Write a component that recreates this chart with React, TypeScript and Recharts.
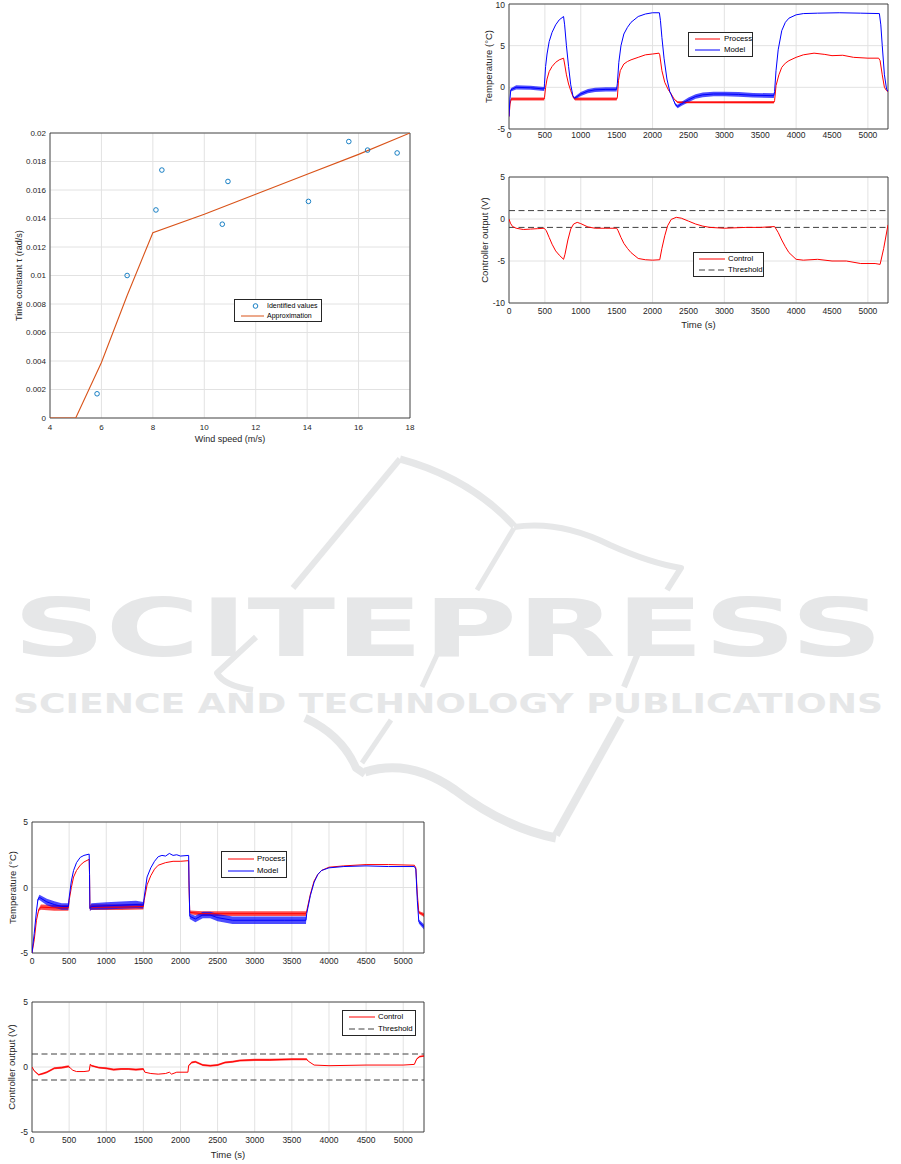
import React from 'react';
import {
  ComposedChart,
  Line,
  Area,
  Scatter,
  XAxis,
  YAxis,
  CartesianGrid,
  ReferenceArea,
  ReferenceLine,
  Legend,
} from 'recharts';

const FONT = '"Liberation Sans", Arial, Helvetica, sans-serif';
const AXIS = '#262626';
const GRID = '#e2e2e2';
const RED = '#ff0000';
const BLUE = '#0000ff';
const MBLUE = '#0072bd';
const MORANGE = '#d95319';
const THRESH = '#404040';

// ---------- Chart 1: time constant vs wind speed ----------
const windSpeedIdentified = [5.83, 7.0, 8.12, 8.35, 10.7, 10.92, 14.05, 15.62, 16.35, 17.5];
const tauIdentified = [0.0017, 0.01, 0.0146, 0.0174, 0.0136, 0.0166, 0.0152, 0.0194, 0.0188, 0.0186];
const windSpeedApprox = [4, 5, 6, 7, 8, 10, 12, 14, 16, 18];
const tauApprox = [0, 0, 0.0039, 0.0086, 0.013, 0.0143, 0.0157, 0.0171, 0.0185, 0.02];
const windTicks = [4, 6, 8, 10, 12, 14, 16, 18];
const tauTicks = [0, 0.002, 0.004, 0.006, 0.008, 0.01, 0.012, 0.014, 0.016, 0.018, 0.02];

// ---------- shared time axis ----------
const timeTicks = [0, 500, 1000, 1500, 2000, 2500, 3000, 3500, 4000, 4500, 5000];
const TIME_MAX = 5280;

// [time, value, noise half-width]
// ---------- Chart 2 (top right): temperature, run A ----------
const tempA_process = [
  [0, -3.5, 0], [15, -2, 0], [30, -1.4, 0.18], [490, -1.4, 0.18], [495, -1.2, 0], [510, 0, 0], [530, 1.0, 0],
  [560, 1.9, 0], [600, 2.5, 0], [650, 3.0, 0], [700, 3.3, 0], [760, 3.5, 0], [775, 2.8, 0], [800, 1.5, 0],
  [830, 0.4, 0], [860, -0.4, 0], [900, -1.3, 0], [920, -1.4, 0.18], [1500, -1.4, 0.18], [1510, -1.2, 0],
  [1525, 0.8, 0], [1550, 2.0, 0], [1600, 2.8, 0], [1650, 3.1, 0], [1700, 3.3, 0], [1800, 3.6, 0],
  [1900, 3.9, 0], [2000, 4.0, 0], [2090, 4.1, 0], [2100, 3.9, 0], [2130, 2.0, 0], [2170, 0.6, 0],
  [2220, -0.3, 0], [2260, -0.8, 0], [2300, -1.4, 0], [2350, -1.8, 0.12], [3690, -1.8, 0.15], [3700, -1.6, 0],
  [3720, 0.2, 0], [3760, 1.5, 0], [3800, 2.4, 0], [3850, 2.9, 0], [3900, 3.2, 0], [4000, 3.6, 0],
  [4100, 3.9, 0], [4250, 4.1, 0], [4400, 3.95, 0], [4500, 3.8, 0], [4650, 3.85, 0], [4800, 3.6, 0],
  [5000, 3.5, 0], [5150, 3.5, 0], [5170, 3.2, 0], [5200, 1.5, 0], [5230, 0, 0], [5260, -0.4, 0], [5280, -0.5, 0],
];
const tempA_model = [
  [0, -3.5, 0], [12, -1.5, 0], [25, -0.3, 0.2], [100, 0, 0.25], [300, -0.05, 0.25], [490, -0.2, 0.25],
  [495, 0.5, 0], [510, 2.5, 0], [530, 4.0, 0], [560, 5.5, 0], [600, 6.6, 0], [650, 7.5, 0], [700, 8.1, 0],
  [760, 8.5, 0], [775, 7.5, 0], [800, 5.0, 0], [830, 2.5, 0], [860, 0.3, 0], [890, -1.0, 0], [910, -1.3, 0.15],
  [950, -1.1, 0.2], [1000, -0.8, 0.25], [1100, -0.45, 0.25], [1200, -0.3, 0.25], [1350, -0.25, 0.25],
  [1500, -0.25, 0.25], [1510, 0.5, 0], [1530, 3.0, 0], [1560, 5.0, 0], [1600, 6.4, 0], [1650, 7.2, 0],
  [1700, 7.8, 0], [1800, 8.5, 0], [1900, 8.8, 0], [2000, 8.95, 0], [2095, 8.95, 0], [2110, 8.0, 0],
  [2130, 6.0, 0], [2160, 3.5, 0], [2200, 1.0, 0], [2240, -0.5, 0], [2280, -1.3, 0], [2320, -2.1, 0.15],
  [2350, -2.3, 0.2], [2400, -2.0, 0.25], [2500, -1.5, 0.28], [2600, -1.1, 0.28], [2700, -0.9, 0.28],
  [2850, -0.8, 0.28], [3000, -0.8, 0.28], [3200, -0.85, 0.28], [3400, -0.95, 0.28], [3690, -1.0, 0.28],
  [3700, -0.5, 0], [3720, 2.0, 0], [3750, 4.5, 0], [3800, 6.8, 0], [3850, 7.8, 0], [3900, 8.3, 0],
  [4000, 8.7, 0], [4100, 8.85, 0], [4300, 8.9, 0], [4600, 8.95, 0], [4900, 8.9, 0], [5160, 8.85, 0],
  [5180, 7.5, 0], [5200, 5.0, 0], [5230, 1.5, 0], [5260, -0.2, 0], [5280, -0.5, 0],
];

// ---------- Chart 3 (top right): controller output, run A ----------
const controlA = [
  [0, 0], [20, -0.5], [50, -0.9], [100, -1.1], [200, -1.25], [300, -1.2], [400, -1.15], [490, -1.1],
  [520, -1.4], [560, -2.2], [600, -3.0], [650, -3.8], [700, -4.3], [760, -4.8], [780, -4.2], [820, -2.5],
  [860, -1.2], [900, -0.6], [950, -0.4], [1000, -0.55], [1100, -0.95], [1200, -1.1], [1350, -1.1],
  [1500, -1.1], [1520, -1.4], [1560, -2.2], [1600, -2.9], [1650, -3.5], [1700, -4.0], [1800, -4.7],
  [1900, -4.85], [2000, -4.9], [2100, -4.85], [2130, -3.5], [2170, -2.0], [2210, -0.8], [2260, -0.05],
  [2330, 0.2], [2400, 0.1], [2500, -0.25], [2600, -0.6], [2700, -0.85], [2800, -1.0], [3000, -1.1],
  [3300, -1.0], [3500, -1.0], [3700, -0.9], [3750, -1.6], [3800, -2.5], [3850, -3.3], [3900, -4.0],
  [4000, -4.8], [4100, -4.9], [4300, -4.8], [4500, -5.0], [4700, -5.0], [4900, -5.3], [5100, -5.3],
  [5170, -5.4], [5220, -3.5], [5280, -0.7],
];
const thresholdLevels = [1, -1];

// ---------- Chart 4 (bottom left): temperature, run B ----------
const tempB_process = [
  [0, -5, 0], [30, -4.0, 0], [60, -2.5, 0], [90, -1.7, 0.1], [120, -1.5, 0.2], [300, -1.55, 0.22],
  [490, -1.55, 0.22], [500, -1.0, 0], [530, 0.0, 0], [560, 0.8, 0], [600, 1.3, 0], [650, 1.7, 0],
  [700, 1.95, 0], [770, 2.15, 0], [775, 1.0, 0], [780, -1.6, 0.15], [800, -1.5, 0.22], [1000, -1.5, 0.22],
  [1200, -1.5, 0.22], [1500, -1.45, 0.22], [1510, -1.0, 0], [1550, 0.2, 0], [1600, 0.9, 0], [1650, 1.4, 0],
  [1700, 1.7, 0], [1800, 1.9, 0], [1900, 2.0, 0], [2000, 2.0, 0], [2110, 2.05, 0], [2115, 0, 0],
  [2125, -1.9, 0.15], [2300, -2.0, 0.18], [3000, -2.0, 0.18], [3690, -2.0, 0.18], [3700, -1.8, 0],
  [3750, -0.5, 0], [3800, 0.5, 0], [3850, 1.0, 0], [3900, 1.3, 0], [4000, 1.55, 0], [4200, 1.65, 0],
  [4500, 1.75, 0], [4800, 1.75, 0], [5150, 1.7, 0], [5170, 1.5, 0], [5190, -0.5, 0], [5210, -1.9, 0.1],
  [5280, -2.1, 0.15],
];
const tempB_model = [
  [0, -5, 0], [30, -3.5, 0], [60, -1.8, 0], [80, -0.9, 0.1], [100, -0.75, 0.2], [200, -1.1, 0.25],
  [300, -1.3, 0.25], [400, -1.45, 0.25], [490, -1.45, 0.25], [500, -0.8, 0], [530, 0.5, 0], [560, 1.3, 0],
  [600, 1.9, 0], [650, 2.3, 0], [700, 2.45, 0], [770, 2.55, 0], [775, 1.0, 0], [780, -1.6, 0.2],
  [800, -1.45, 0.25], [1000, -1.4, 0.28], [1200, -1.35, 0.28], [1400, -1.3, 0.28], [1500, -1.35, 0.25],
  [1510, -0.8, 0], [1550, 0.8, 0], [1600, 1.5, 0], [1650, 2.0, 0], [1700, 2.35, 0], [1750, 2.45, 0],
  [1800, 2.4, 0], [1850, 2.6, 0], [1900, 2.45, 0], [1950, 2.5, 0], [2000, 2.4, 0], [2110, 2.45, 0],
  [2115, 0.5, 0], [2125, -2.2, 0.2], [2200, -2.4, 0.25], [2300, -2.1, 0.25], [2400, -2.1, 0.25],
  [2500, -2.3, 0.28], [2700, -2.5, 0.28], [3000, -2.5, 0.28], [3400, -2.5, 0.28], [3690, -2.5, 0.28],
  [3700, -2.0, 0], [3750, -0.6, 0], [3800, 0.4, 0], [3850, 1.0, 0], [3900, 1.3, 0], [4000, 1.5, 0],
  [4200, 1.6, 0], [4500, 1.65, 0], [4800, 1.6, 0], [5150, 1.6, 0], [5170, 1.4, 0], [5190, -1.0, 0],
  [5210, -2.6, 0.15], [5280, -3.0, 0.2],
];

// ---------- Chart 5 (bottom left): controller output, run B ----------
const controlB = [
  [0, 0, 0], [30, -0.3, 0.03], [90, -0.6, 0.06], [150, -0.5, 0.08], [200, -0.4, 0.08], [300, -0.1, 0.08],
  [400, -0.05, 0.08], [490, 0.05, 0.08], [520, -0.1, 0], [550, -0.25, 0], [600, -0.35, 0], [700, -0.35, 0],
  [770, -0.3, 0], [785, 0.2, 0.05], [800, 0.1, 0.07], [900, -0.05, 0.07], [1000, -0.1, 0.08],
  [1100, -0.2, 0.08], [1200, -0.15, 0.08], [1300, -0.15, 0.08], [1400, -0.2, 0.08], [1500, -0.15, 0.08],
  [1520, -0.4, 0], [1600, -0.5, 0], [1700, -0.55, 0], [1800, -0.5, 0], [1850, -0.4, 0], [1880, -0.55, 0],
  [1950, -0.4, 0], [2100, -0.4, 0], [2110, 0.1, 0.05], [2150, 0.35, 0.08], [2200, 0.4, 0.08],
  [2300, 0.15, 0.08], [2400, 0.1, 0.08], [2500, 0.15, 0.08], [2600, 0.35, 0.08], [2700, 0.4, 0.08],
  [2800, 0.5, 0.08], [3000, 0.55, 0.08], [3200, 0.55, 0.08], [3500, 0.6, 0.08], [3700, 0.6, 0.08],
  [3720, 0.45, 0], [3800, 0.15, 0], [4000, 0.1, 0], [4500, 0.15, 0], [5000, 0.15, 0], [5150, 0.2, 0],
  [5180, 0.6, 0.05], [5220, 0.8, 0.06], [5280, 0.85, 0.06],
];

const toRows = (pts: number[][]) =>
  pts.map((p) => {
    const n = p[2] ?? 0;
    return { t: p[0], v: p[1], band: [p[1] - n, p[1] + n] };
  });

type LegendItem = { label: string; color: string; kind: 'line' | 'marker'; dash?: string };

function LegendBox({ items, fontSize, sample, padLeft, gap, w, h }: any) {
  return (
    <div
      style={{
        boxSizing: 'border-box',
        width: w,
        height: h,
        border: `1px solid ${AXIS}`,
        background: '#fff',
        fontFamily: FONT,
        fontSize,
        color: '#000',
        paddingLeft: padLeft,
        display: 'flex',
        flexDirection: 'column',
        justifyContent: 'center',
      }}
    >
      {(items as LegendItem[]).map((it) => (
        <div key={it.label} style={{ display: 'flex', alignItems: 'center', height: (h - 3) / items.length, whiteSpace: 'nowrap' }}>
          <svg width={sample} height={8} style={{ marginRight: gap, flex: 'none' }}>
            {it.kind === 'marker' ? (
              <circle cx={sample / 2 + 3} cy={4} r={2.3} fill="none" stroke={it.color} strokeWidth={0.9} />
            ) : (
              <line x1={0} x2={sample} y1={4} y2={4} stroke={it.color} strokeWidth={1} strokeDasharray={it.dash} />
            )}
          </svg>
          <span style={{ lineHeight: 1 }}>{it.label}</span>
        </div>
      ))}
    </div>
  );
}

const tickStyle = (size: number) => ({ fontSize: size, fill: AXIS, fontFamily: FONT });

function WindChart() {
  const scatterRows = windSpeedIdentified.map((x, i) => ({ x, y: tauIdentified[i] }));
  const approxRows = windSpeedApprox.map((x, i) => ({ x, y: tauApprox[i] }));
  const items: LegendItem[] = [
    { label: 'Identified values', color: MBLUE, kind: 'marker' },
    { label: 'Approximation', color: MORANGE, kind: 'line' },
  ];
  return (
    <div style={{ position: 'absolute', left: 0, top: 120 }}>
      <ComposedChart width={420} height={330} margin={{ top: 13, right: 10, bottom: 0, left: 0 }}>
        <CartesianGrid stroke={GRID} strokeWidth={1} />
        <XAxis
          dataKey="x"
          type="number"
          domain={[4, 18]}
          ticks={windTicks}
          allowDataOverflow
          height={32}
          axisLine={false}
          tickLine={false}
          tickSize={0}
          tickMargin={6}
          tick={tickStyle(8)}
          label={{ value: 'Wind speed (m/s)', position: 'insideBottom', offset: 8, fontSize: 9, fill: AXIS, fontFamily: FONT }}
        />
        <YAxis
          type="number"
          domain={[0, 0.02]}
          ticks={tauTicks}
          allowDataOverflow
          width={50}
          axisLine={false}
          tickLine={false}
          tickSize={0}
          tickMargin={4}
          tick={tickStyle(8)}
          tickFormatter={(v: number) => String(Number(v.toFixed(3)))}
          label={{
            value: 'Time constant τ (rad/s)',
            angle: -90,
            position: 'insideLeft',
            offset: 19,
            fontSize: 9,
            fill: AXIS,
            fontFamily: FONT,
            style: { textAnchor: 'middle' },
          }}
        />
        <ReferenceArea x1={4} x2={18} y1={0} y2={0.02} fill="none" fillOpacity={0} stroke={AXIS} strokeWidth={0.8} ifOverflow="visible" />
        <Line data={approxRows} dataKey="y" type="linear" stroke={MORANGE} strokeWidth={1.1} dot={false} activeDot={false} isAnimationActive={false} />
        <Scatter
          data={scatterRows}
          dataKey="y"
          isAnimationActive={false}
          shape={(p: any) => <circle cx={p.cx} cy={p.cy} r={2.3} fill="none" stroke={MBLUE} strokeWidth={0.9} />}
        />
        <Legend
          verticalAlign="middle"
          align="center"
          layout="horizontal"
          wrapperStyle={{ left: 234, top: 179, width: 88, height: 23 }}
          content={() => <LegendBox items={items} fontSize={7} sample={23} padLeft={6} gap={3} w={88} h={23} />}
        />
      </ComposedChart>
    </div>
  );
}

type SeriesDef = { name: string; color: string; pts: number[][] };

function TimeChart(props: any) {
  const {
    left, top, width, height, margin, yW, xH, yDomain, yTicks, yLabel, yLabelOffset,
    xLabel, xLabelOffset, xTickGap, series, thresholds, legend,
  } = props;
  const children: any[] = [];
  (series as SeriesDef[]).forEach((s) => {
    const data = toRows(s.pts);
    children.push(
      <Area
        key={s.name + '-band'}
        data={data}
        dataKey="band"
        type="linear"
        stroke="none"
        fill={s.color}
        fillOpacity={0.7}
        dot={false}
        activeDot={false}
        legendType="none"
        isAnimationActive={false}
      />
    );
    children.push(
      <Line
        key={s.name + '-line'}
        data={data}
        dataKey="v"
        type="linear"
        stroke={s.color}
        strokeWidth={1}
        dot={false}
        activeDot={false}
        isAnimationActive={false}
      />
    );
  });
  return (
    <div style={{ position: 'absolute', left, top }}>
      <ComposedChart width={width} height={height} margin={margin}>
        <CartesianGrid stroke={GRID} strokeWidth={1} />
        <XAxis
          dataKey="t"
          type="number"
          domain={[0, TIME_MAX]}
          ticks={timeTicks}
          allowDataOverflow
          height={xH}
          axisLine={false}
          tickLine={false}
          tickSize={0}
          tickMargin={xTickGap}
          tick={tickStyle(8.5)}
          label={
            xLabel
              ? { value: xLabel, position: 'insideBottom', offset: xLabelOffset, fontSize: 9.5, fill: AXIS, fontFamily: FONT }
              : undefined
          }
        />
        <YAxis
          type="number"
          domain={yDomain}
          ticks={yTicks}
          allowDataOverflow
          width={yW}
          axisLine={false}
          tickLine={false}
          tickSize={0}
          tickMargin={4}
          tick={tickStyle(8.5)}
          label={{
            value: yLabel,
            angle: -90,
            position: 'insideLeft',
            offset: yLabelOffset,
            fontSize: 9.5,
            fill: AXIS,
            fontFamily: FONT,
            style: { textAnchor: 'middle' },
          }}
        />
        {(thresholds || []).map((lv: number) => (
          <ReferenceLine key={'th' + lv} y={lv} stroke={THRESH} strokeWidth={1} strokeDasharray="6 3.5" />
        ))}
        {children}
        <ReferenceArea
          x1={0}
          x2={TIME_MAX}
          y1={yDomain[0]}
          y2={yDomain[1]}
          fill="none"
          fillOpacity={0}
          stroke={AXIS}
          strokeWidth={0.8}
          ifOverflow="visible"
        />
        <Legend
          verticalAlign="middle"
          align="center"
          layout="horizontal"
          wrapperStyle={{ left: legend.left, top: legend.top, width: legend.w, height: legend.h }}
          content={() => (
            <LegendBox items={legend.items} fontSize={7.8} sample={legend.sample} padLeft={legend.padLeft} gap={legend.gap} w={legend.w} h={legend.h} />
          )}
        />
      </ComposedChart>
    </div>
  );
}

function Watermark() {
  const c = '#e6e7e8';
  return (
    <svg width={901} height={1164} style={{ position: 'absolute', left: 0, top: 0 }}>
      <g fill="none" stroke={c} strokeWidth={6} strokeLinecap="butt" strokeLinejoin="round">
        <path d="M400,459 L293,588" />
        <path d="M256,637 L217,673 Q224,686 253,690" />
        <path d="M400,459 Q470,478 514,526" strokeWidth={7} />
        <path d="M514,527 Q560,520 610,545 Q650,563 681,568 L667,590" />
        <path d="M514,528 L477,590" strokeWidth={5} />
        <path d="M443,642 L422,687" strokeWidth={5} />
        <path d="M391,720 L362,763" strokeWidth={5} />
        <path d="M638,653 L624,687" />
        <path d="M621,718 L556,835" strokeWidth={8} />
        <path d="M305,718 Q342,735 356,768 L365,774" strokeWidth={8} />
        <path d="M365,772 Q410,758 455,790 Q505,828 556,838" strokeWidth={9} />
      </g>
      <text
        x={13}
        y={656}
        fontSize={81}
        fontWeight={700}
        fontFamily='"DejaVu Sans", sans-serif'
        textLength={870}
        lengthAdjust="spacingAndGlyphs"
        fill={c}
      >
        SCITEPRESS
      </text>
      <text
        x={13}
        y={713}
        fontSize={27}
        fontWeight={700}
        fontFamily='"DejaVu Sans", sans-serif'
        textLength={870}
        lengthAdjust="spacingAndGlyphs"
        fill={c}
      >
        SCIENCE AND TECHNOLOGY PUBLICATIONS
      </text>
    </svg>
  );
}

export default function App() {
  const tempItems: LegendItem[] = [
    { label: 'Process', color: RED, kind: 'line' },
    { label: 'Model', color: BLUE, kind: 'line' },
  ];
  const ctrlItems: LegendItem[] = [
    { label: 'Control', color: RED, kind: 'line' },
    { label: 'Threshold', color: THRESH, kind: 'line', dash: '6 3.5' },
  ];
  return (
    <div
      style={{
        position: 'absolute',
        left: 0,
        top: 0,
        width: 901,
        height: 1164,
        background: '#fff',
        fontFamily: FONT,
        overflow: 'hidden',
      }}
    >
      <Watermark />
      <WindChart />
      <TimeChart
        left={470}
        top={0}
        width={425}
        height={150}
        margin={{ top: 4, right: 7, bottom: 0, left: 0 }}
        yW={39}
        xH={21}
        xTickGap={3}
        yDomain={[-5, 10]}
        yTicks={[-5, 0, 5, 10]}
        yLabel="Temperature (°C)"
        yLabelOffset={19}
        series={[
          { name: 'Process', color: RED, pts: tempA_process },
          { name: 'Model', color: BLUE, pts: tempA_model },
        ]}
        legend={{ left: 218, top: 32, w: 65, h: 25, sample: 25, padLeft: 6, gap: 4, items: tempItems }}
      />
      <TimeChart
        left={470}
        top={170}
        width={425}
        height={165}
        margin={{ top: 7, right: 7, bottom: 0, left: 0 }}
        yW={39}
        xH={32}
        xTickGap={5}
        yDomain={[-10, 5]}
        yTicks={[-10, -5, 0, 5]}
        yLabel="Controller output (V)"
        yLabelOffset={15}
        xLabel="Time (s)"
        xLabelOffset={7}
        thresholds={thresholdLevels}
        series={[{ name: 'Control', color: RED, pts: controlA }]}
        legend={{ left: 223, top: 82, w: 71, h: 25, sample: 26, padLeft: 5, gap: 3, items: ctrlItems }}
      />
      <TimeChart
        left={0}
        top={815}
        width={430}
        height={158}
        margin={{ top: 7, right: 6, bottom: 0, left: 0 }}
        yW={32}
        xH={20}
        xTickGap={5}
        yDomain={[-5, 5]}
        yTicks={[-5, 0, 5]}
        yLabel="Temperature (°C)"
        yLabelOffset={13}
        series={[
          { name: 'Process', color: RED, pts: tempB_process },
          { name: 'Model', color: BLUE, pts: tempB_model },
        ]}
        legend={{ left: 221, top: 36, w: 66, h: 27, sample: 26, padLeft: 6, gap: 3, items: tempItems }}
      />
      <TimeChart
        left={0}
        top={995}
        width={430}
        height={169}
        margin={{ top: 7, right: 6, bottom: 0, left: 0 }}
        yW={32}
        xH={32}
        xTickGap={5}
        yDomain={[-5, 5]}
        yTicks={[-5, 0, 5]}
        yLabel="Controller output (V)"
        yLabelOffset={12}
        xLabel="Time (s)"
        xLabelOffset={6}
        thresholds={thresholdLevels}
        series={[{ name: 'Control', color: RED, pts: controlB }]}
        legend={{ left: 342, top: 15, w: 74, h: 26, sample: 26, padLeft: 6, gap: 3, items: ctrlItems }}
      />
    </div>
  );
}
